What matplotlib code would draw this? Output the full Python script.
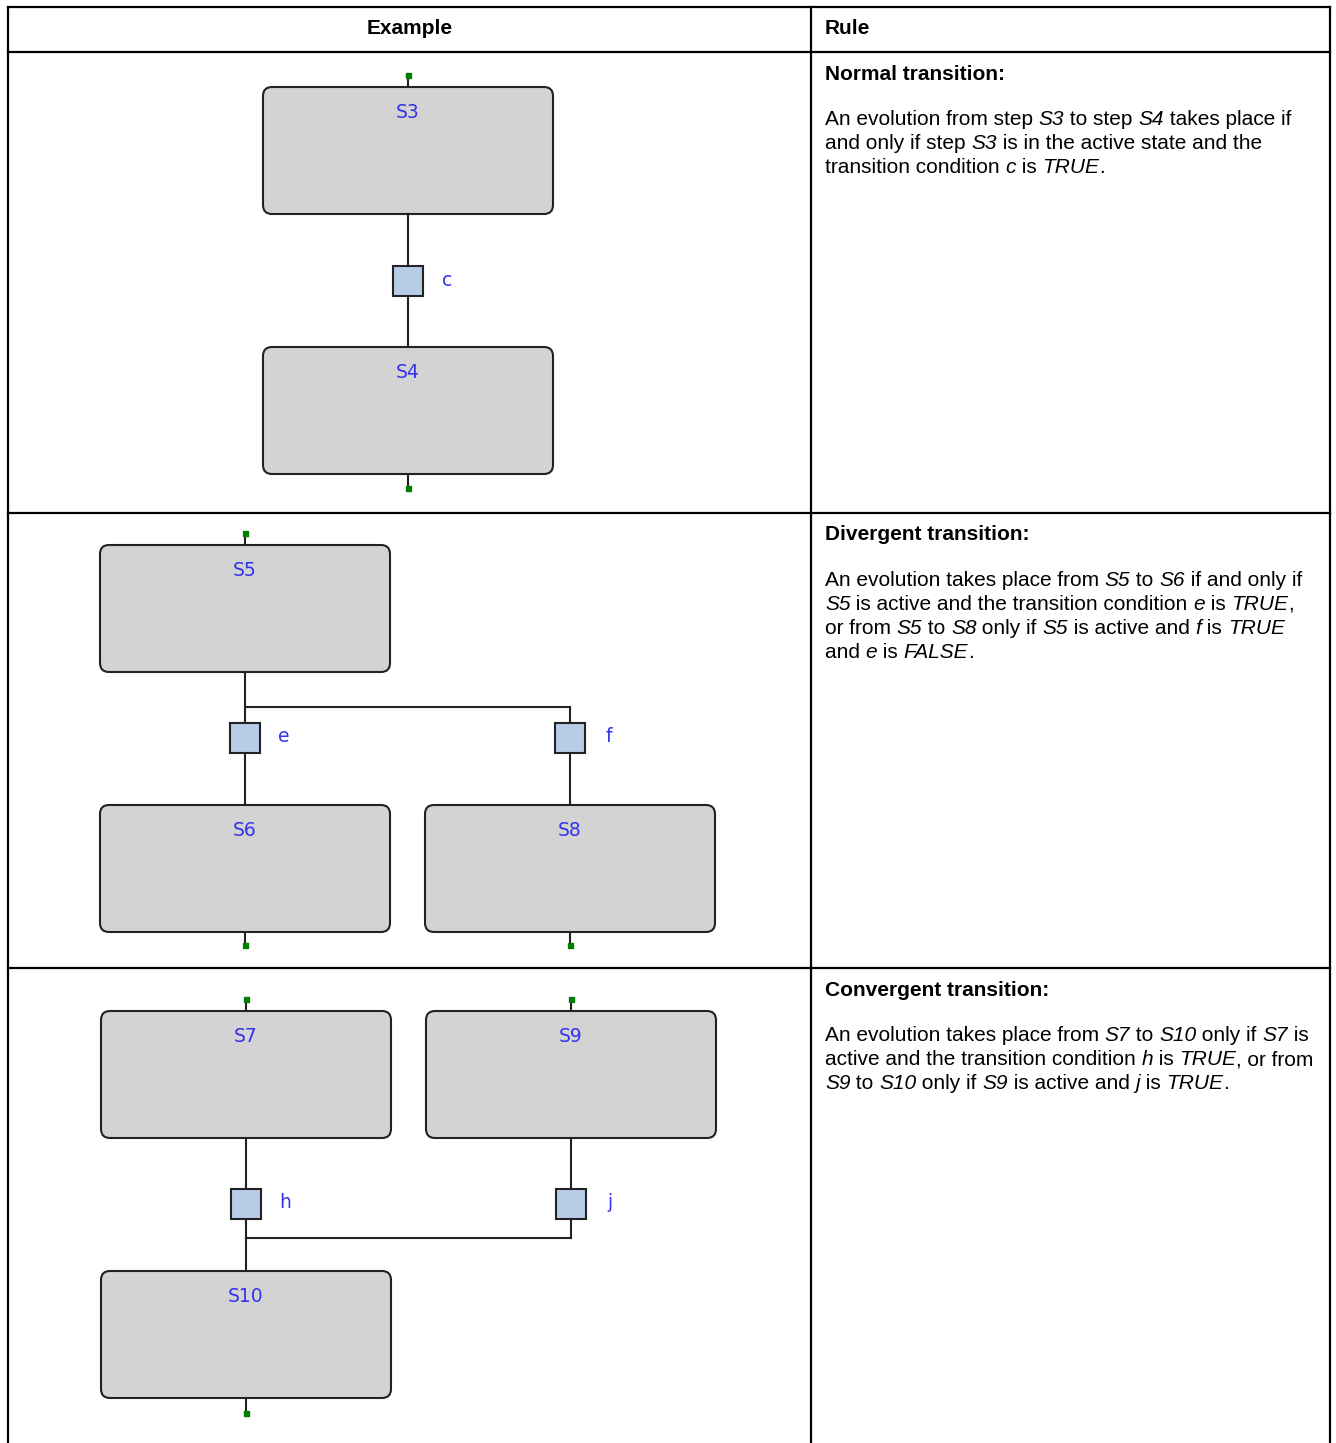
import matplotlib
matplotlib.use("Agg")
import matplotlib.pyplot as plt
from matplotlib.patches import FancyBboxPatch, Rectangle
from matplotlib.font_manager import FontProperties

# table layout (pixels)
col_x = [8, 811, 1330]
row_y = [7, 52, 513, 968, 1443]
headers = ["Example", "Rule"]

# steps: name, centre x, top y
step_names = ["S3", "S4", "S5", "S6", "S8", "S7", "S9", "S10"]
step_x = [408, 408, 245, 245, 570, 246, 571, 246]
step_top = [87, 347, 545, 805, 805, 1011, 1011, 1271]
step_w, step_h = 290, 127

# transitions: name, centre x, centre y
trans_names = ["c", "e", "f", "h", "j"]
trans_x = [408, 245, 570, 246, 571]
trans_y = [281, 738, 738, 1204, 1204]
sq = 30

# rule texts (*...* = italic)
rule_titles = ["Normal transition:", "Divergent transition:", "Convergent transition:"]
rule_lines = [
    ["An evolution from step *S3* to step *S4* takes place if",
     "and only if step *S3* is in the active state and the",
     "transition condition *c* is *TRUE*."],
    ["An evolution takes place from *S5* to *S6* if and only if",
     "*S5* is active and the transition condition *e* is *TRUE*,",
     "or from *S5* to *S8* only if *S5* is active and *f* is *TRUE*",
     "and *e* is *FALSE*."],
    ["An evolution takes place from *S7* to *S10* only if *S7* is",
     "active and the transition condition *h* is *TRUE*, or from",
     "*S9* to *S10* only if *S9* is active and *j* is *TRUE*."],
]

W, H = 1336, 1443
fig = plt.figure(figsize=(W / 100, H / 100), dpi=100)
ax = fig.add_axes([0, 0, 1, 1])
ax.set_xlim(0, W)
ax.set_ylim(H, 0)
ax.axis("off")

LW = 1.5
edge = "#222222"
FS = 15

# table grid
for x in col_x:
    ax.plot([x, x], [row_y[0], row_y[-1]], color="black", lw=1.6)
for y in row_y[:-1]:
    ax.plot([col_x[0], col_x[-1]], [y, y], color="black", lw=1.6)

ax.text((col_x[0] + col_x[1]) / 2, 29, headers[0], ha="center", va="center",
        fontsize=FS, fontweight="bold", family="Liberation Sans")
ax.text(col_x[1] + 14, 29, headers[1], ha="left", va="center",
        fontsize=FS, fontweight="bold", family="Liberation Sans")

# steps
for name, cx, top in zip(step_names, step_x, step_top):
    box = FancyBboxPatch((cx - step_w / 2, top), step_w, step_h,
                         boxstyle="round,pad=0,rounding_size=9",
                         fc="#d3d3d3", ec=edge, lw=LW, zorder=2)
    ax.add_patch(box)
    ax.text(cx, top + 25, name, ha="center", va="center", color="#3333ee",
            fontsize=13.5, family="DejaVu Sans", zorder=3)


def vline(x, y0, y1):
    ax.plot([x, x], [y0, y1], color=edge, lw=LW, zorder=1)


def hline(x0, x1, y):
    ax.plot([x0, x1], [y, y], color=edge, lw=LW, zorder=1)


def dot(x, y, y_box):
    vline(x, y, y_box)
    ax.add_patch(Rectangle((x - 2.5, y - 2.5), 5, 5, fc="#008000", ec="#008000", zorder=4))


# entry/exit dots
dot(408, 75, 87)
dot(408, 488, 474)
dot(245, 533, 545)
dot(245, 945, 932)
dot(570, 945, 932)
dot(246, 999, 1011)
dot(571, 999, 1011)
dot(246, 1413, 1398)

# links
vline(408, 214, 347)
vline(245, 672, 805)
hline(245, 570, 707)
vline(570, 707, 805)
vline(246, 1138, 1271)
vline(571, 1138, 1238)
hline(246, 571, 1238)

# transitions
for name, cx, cy in zip(trans_names, trans_x, trans_y):
    ax.add_patch(Rectangle((cx - sq / 2, cy - sq / 2), sq, sq, fc="#b8cce8",
                           ec=edge, lw=LW, zorder=3))
    ax.text(cx + 39, cy - 1, name, ha="center", va="center", color="#3333ee",
            fontsize=13.5, family="DejaVu Sans", zorder=3)

# rule column text with italic runs
fig.canvas.draw()
renderer = fig.canvas.get_renderer()
fp_norm = FontProperties(family="Liberation Sans", size=FS)
fp_ital = FontProperties(family="Liberation Sans", size=FS, style="italic")
bar_w = renderer.get_text_width_height_descent("|", fp_norm, ismath=False)[0]


def run_width(s, fp):
    return renderer.get_text_width_height_descent(s + "|", fp, ismath=False)[0] - bar_w


x0 = col_x[1] + 14
for title, lines, ry in zip(rule_titles, rule_lines, row_y[1:4]):
    ax.text(x0, ry + 22, title, ha="left", va="center", fontsize=FS,
            fontweight="bold", family="Liberation Sans")
    for i, line in enumerate(lines):
        y = ry + 73 + i * 24
        x = x0
        for k, part in enumerate(line.split("*")):
            if not part:
                continue
            fp = fp_ital if k % 2 else fp_norm
            ax.text(x, y, part, ha="left", va="baseline", fontproperties=fp)
            x += run_width(part, fp)

fig.savefig("out.png", dpi=100)
